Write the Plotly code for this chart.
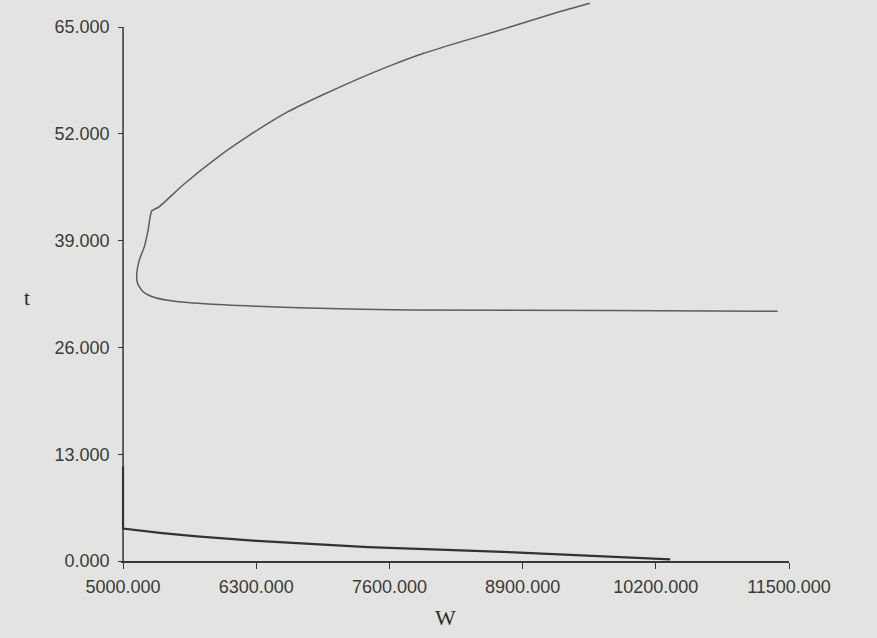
import plotly.graph_objects as go

# Upper branch (traced from the top, round the nose, out along the plateau)
upper_w = [9555, 9242, 8595, 8270, 7935, 7610, 7280, 6940, 6610, 6280, 5929, 5588,
           5351, 5279, 5245, 5209, 5158, 5134, 5141, 5193, 5279, 5451, 5795, 6310,
           6810, 7800, 9745, 11389]
upper_t = [67.9, 66.8, 64.3, 63.1, 61.8, 60.3, 58.6, 56.7, 54.7, 52.2, 49.2, 45.8,
           43.1, 42.6, 40.3, 38.3, 36.6, 35.0, 33.8, 32.8, 32.2, 31.7, 31.3, 31.0,
           30.8, 30.55, 30.5, 30.4]

# Lower branch (spike at W=5000 then decaying towards zero)
lower_w = [5000, 5000, 5382, 5722, 6310, 6740, 7390, 8820, 10180, 10340]
lower_t = [11.5, 3.95, 3.4, 3.0, 2.45, 2.12, 1.7, 1.05, 0.3, 0.2]

x_ticks = [5000, 6300, 7600, 8900, 10200, 11500]
y_ticks = [0, 13, 26, 39, 52, 65]
x_range = [4980, 11500]

axis_col = "#363636"
text_col = "#3a3a3a"

fig = go.Figure()
fig.add_trace(go.Scatter(x=upper_w, y=upper_t, mode="lines",
                         line=dict(color="#5c5c5c", width=1.5, shape="spline", smoothing=0.5),
                         hoverinfo="skip", showlegend=False))
fig.add_trace(go.Scatter(x=lower_w, y=lower_t, mode="lines",
                         line=dict(color="#333333", width=2.2),
                         hoverinfo="skip", showlegend=False))

# vertical axis line only up to the last tick
fig.add_shape(type="line", xref="x", yref="y", x0=x_ticks[0], x1=x_ticks[0],
              y0=y_ticks[0], y1=y_ticks[-1], line=dict(color=axis_col, width=1.5))

fig.add_annotation(text="W", xref="x", yref="paper", x=8143, y=-0.1,
                   showarrow=False, xanchor="center", yanchor="middle",
                   font=dict(family="Liberation Serif", size=22, color="#2a2a2a"))
fig.add_annotation(text="t", xref="paper", yref="y", x=-0.14, y=32.0,
                   showarrow=False, xanchor="center", yanchor="middle",
                   font=dict(family="Liberation Serif", size=21, color="#2a2a2a"))

# y ticks sit on the W=5000 line
y_pos = (x_ticks[0] - x_range[0]) / (x_range[1] - x_range[0])

fig.update_layout(
    width=877, height=638,
    margin=dict(l=121, r=88, t=0, b=77),
    paper_bgcolor="#e3e3e1", plot_bgcolor="rgba(0,0,0,0)",
    font=dict(family="Liberation Sans", size=18, color=text_col),
    xaxis=dict(range=x_range, tickvals=x_ticks, tickformat=".3f",
               showline=True, linecolor=axis_col, linewidth=1.5,
               ticks="outside", ticklen=6, tickwidth=1.3, tickcolor=axis_col,
               showgrid=False, zeroline=False, ticklabelstandoff=3),
    yaxis=dict(range=[0, 68.29], tickvals=y_ticks, tickformat=".3f",
               anchor="free", position=y_pos,
               showline=False, ticks="outside", ticklen=5, tickwidth=1.3,
               tickcolor=axis_col, showgrid=False, zeroline=False,
               ticklabelstandoff=5),
)

fig.write_html("out.html")
